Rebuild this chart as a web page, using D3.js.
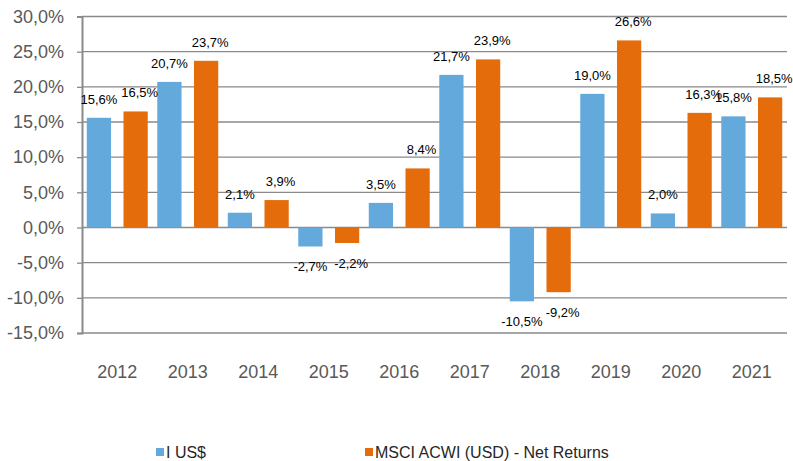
<!DOCTYPE html>
<html>
<head>
<meta charset="utf-8">
<script src="https://cdn.jsdelivr.net/npm/d3@7"></script>
<style>
  body { margin: 0; background: #fff; }
  text { font-family: "Liberation Sans", Arial, sans-serif; }
</style>
</head>
<body>
<div id="chart"></div>
<script>
// chart data
const years = ["2012", "2013", "2014", "2015", "2016", "2017", "2018", "2019", "2020", "2021"];
const seriesNames = ["I US$", "MSCI ACWI (USD) - Net Returns"];
const fundValues = [15.6, 20.7, 2.1, -2.7, 3.5, 21.7, -10.5, 19.0, 2.0, 15.8];
const indexValues = [16.5, 23.7, 3.9, -2.2, 8.4, 23.9, -9.2, 26.6, 16.3, 18.5];
const yTicks = [30, 25, 20, 15, 10, 5, 0, -5, -10, -15];
const colors = ["#63A9DC", "#E46C0A"];

const width = 793, height = 461;
const margin = { top: 16.5, right: 6, bottom: 128, left: 82 };

const svg = d3.select("#chart")
    .append("svg")
    .attr("width", width)
    .attr("height", height);

// comma decimals, plain hyphen minus like the source
const locale = d3.formatLocale({ decimal: ",", thousands: ".", grouping: [3], currency: ["", ""], minus: "-" });
const fmt1 = locale.format(".1f");

const x = d3.scaleBand()
    .domain(years)
    .range([margin.left, width - margin.right])
    .padding(0);

const xInner = d3.scaleBand()
    .domain([0, 1])
    .range([0, x.bandwidth()])
    .paddingInner(0.34)
    .paddingOuter(0.13);

const y = d3.scaleLinear()
    .domain([-15, 30])
    .range([height - margin.bottom, margin.top]);

// gridlines
svg.append("g")
    .selectAll("line")
    .data(yTicks)
    .enter().append("line")
    .attr("x1", margin.left)
    .attr("x2", width - margin.right)
    .attr("y1", d => y(d))
    .attr("y2", d => y(d))
    .attr("stroke", "#8a8a8a")
    .attr("stroke-width", 1.3);

// y axis
const yAxis = svg.append("g")
    .attr("transform", `translate(${margin.left},0)`)
    .call(d3.axisLeft(y).tickValues(yTicks).tickSize(5).tickPadding(13).tickFormat(d => fmt1(d) + "%"));
yAxis.select(".domain").attr("stroke", "#8a8a8a").attr("stroke-width", 2);
yAxis.selectAll(".tick line").attr("stroke", "#8a8a8a").attr("stroke-width", 1.3);
yAxis.selectAll(".tick text")
    .attr("fill", "#595959")
    .style("font-size", "18px")
    .style("font-family", "Liberation Sans, Arial, sans-serif");

// x labels
svg.append("g")
    .selectAll("text")
    .data(years)
    .enter().append("text")
    .attr("x", d => x(d) + x.bandwidth() / 2)
    .attr("y", 378)
    .attr("text-anchor", "middle")
    .attr("fill", "#595959")
    .style("font-size", "18px")
    .text(d => d);

// bars
const series = [fundValues, indexValues];
series.forEach((vals, si) => {
    const g = svg.append("g");
    g.selectAll("rect")
        .data(vals)
        .enter().append("rect")
        .attr("x", (d, i) => x(years[i]) + xInner(si))
        .attr("width", xInner.bandwidth())
        .attr("y", d => y(Math.max(0, d)))
        .attr("height", d => Math.abs(y(d) - y(0)))
        .attr("fill", colors[si]);

    g.selectAll("text")
        .data(vals)
        .enter().append("text")
        .attr("x", (d, i) => x(years[i]) + xInner(si) + xInner.bandwidth() / 2 + (si === 1 ? 4 : 0))
        .attr("y", d => d >= 0 ? y(d) - 14 : y(d) + 25)
        .attr("text-anchor", "middle")
        .attr("fill", "#000")
        .style("font-size", "13px")
        .text(d => fmt1(d) + "%");
});

// legend
const legendX = [156, 365];
const legend = svg.append("g");
seriesNames.forEach((name, i) => {
    legend.append("rect")
        .attr("x", legendX[i])
        .attr("y", 448)
        .attr("width", 8)
        .attr("height", 8)
        .attr("fill", colors[i]);
    legend.append("text")
        .attr("x", legendX[i] + 10)
        .attr("y", 458)
        .attr("fill", "#262626")
        .style("font-size", "16px")
        .text(name);
});
</script>
</body>
</html>
